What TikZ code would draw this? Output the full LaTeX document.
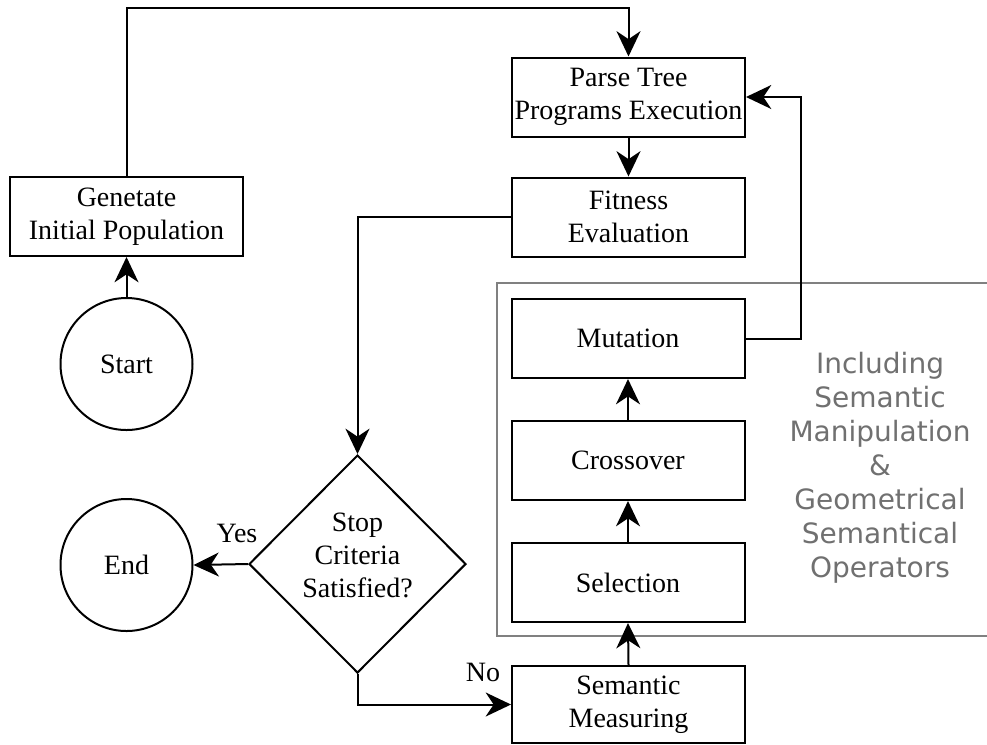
\documentclass[tikz,border=0pt]{standalone}
\usepackage{fontspec}
\setmainfont{Liberation Serif}
\newfontfamily\grayfont{DejaVu Sans}
\usetikzlibrary{shapes.geometric,arrows.meta}
\newdimen\pxu \pxu=0.75pt
\definecolor{boxgray}{RGB}{128,128,128}
\definecolor{txtgray}{RGB}{112,112,112}
\tikzset{
  stepbox/.style={draw, line width=1.5pt, minimum width=233\pxu, minimum height=79\pxu, inner sep=0pt,
    align=center, font=\fontsize{21}{24.75}\selectfont},
  roundnode/.style={draw, circle, line width=1.5pt, minimum size=132\pxu, inner sep=0pt,
    font=\fontsize{21}{24.75}\selectfont},
  decide/.style={draw, diamond, line width=1.5pt, minimum width=217\pxu, minimum height=218\pxu, inner sep=0pt},
  conn/.style={line width=1.5pt, -{Stealth[length=19pt, width=18pt, inset=6pt]}},
  lbl/.style={font=\fontsize{21}{24.75}\selectfont, inner sep=0pt, align=center},
}
\begin{document}
\begin{tikzpicture}[x=0.75pt, y=-0.75pt]
\useasboundingbox (0,0) rectangle (987,744);
% gray group
\draw[boxgray, line width=1.5pt] (990,283) -- (497,283) -- (497,636) -- (990,636);
\node[font=\grayfont\fontsize{21}{25.5}\selectfont, text=txtgray, align=center, inner sep=0pt] (note) at (880,468)
  {Including\\Semantic\\Manipulation\\\&\\Geometrical\\Semantical\\Operators};
% nodes
\node[stepbox] (gen) at (126.5,216.5) {Genetate\\Initial Population};
\node[stepbox] (parse) at (628.5,97) {Parse Tree\\Programs Execution};
\node[stepbox] (fit) at (628.5,217) {Fitness\\Evaluation};
\node[stepbox] (mut) at (628,338.5) {Mutation};
\node[stepbox] (cross) at (628,460.5) {Crossover};
\node[stepbox] (sel) at (628,582.5) {Selection};
\node[stepbox, minimum height=77\pxu] (sem) at (628.5,704.5) {Semantic\\Measuring};
\node[roundnode] (start) at (126.5,364) {Start};
\node[roundnode] (end) at (126.5,565) {End};
\node[decide] (stop) at (357.5,564) {};
\node[lbl] (stoptxt) at (357.5,555) {Stop\\Criteria\\Satisfied?};
\node[lbl] (yes) at (237,533) {Yes};
\node[lbl] (no) at (483,672) {No};
% connectors
\coordinate (topturn) at (126.5,8);
\coordinate (mutturn) at (801,338.5);
\draw[conn] (start.north) -- (gen.south);
\draw[conn] (gen.north) -- (topturn) -| (parse.north);
\draw[conn] (parse.south) -- (fit.north);
\draw[conn] (fit.west) -| (stop.north);
\draw[conn] (stop.west) -- (end.east);
\draw[conn] (stop.south) |- (sem.west);
\draw[conn] (sem.north) -- (sel.south);
\draw[conn] (sel.north) -- (cross.south);
\draw[conn] (cross.north) -- (mut.south);
\draw[conn] (mut.east) -- (mutturn) |- (parse.east);
\end{tikzpicture}
\end{document}
